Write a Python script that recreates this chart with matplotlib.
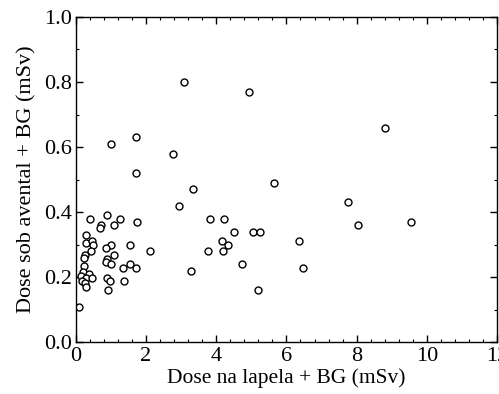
import matplotlib.pyplot as plt
from matplotlib.ticker import MultipleLocator

# Dose on lapel (x) vs dose under apron (y), both + BG, in mSv
dose_lapela = [0.09, 0.40, 0.90, 1.27, 1.09, 0.73, 0.70, 1.73, 0.30, 0.29,
               0.47, 0.49, 1.00, 1.53, 0.87, 0.42, 2.10, 1.09, 0.26, 0.24,
               0.90, 0.86, 0.99, 0.22, 1.55, 1.35, 1.71, 0.21, 0.37, 0.15,
               0.30, 0.45, 0.17, 0.26, 0.30, 0.88, 0.97, 0.93, 1.36, 0.99,
               1.70, 1.72,
               3.07, 4.92, 2.78, 3.35, 2.95, 5.66, 7.75, 3.83, 4.23, 4.50,
               5.05, 5.26, 4.16, 4.33, 6.36, 3.77, 4.18, 3.29, 4.74, 6.46,
               5.19, 8.80, 8.04, 9.54]
dose_avental = [0.11, 0.38, 0.39, 0.38, 0.36, 0.36, 0.35, 0.37, 0.33, 0.305,
                0.31, 0.30, 0.30, 0.30, 0.29, 0.28, 0.28, 0.27, 0.27, 0.26,
                0.256, 0.248, 0.24, 0.235, 0.24, 0.23, 0.23, 0.217, 0.21, 0.204,
                0.198, 0.198, 0.19, 0.183, 0.17, 0.198, 0.19, 0.16, 0.19, 0.61,
                0.63, 0.52,
                0.80, 0.77, 0.58, 0.47, 0.42, 0.49, 0.43, 0.38, 0.38, 0.34,
                0.34, 0.34, 0.31, 0.30, 0.31, 0.28, 0.28, 0.22, 0.24, 0.23,
                0.16, 0.66, 0.36, 0.37]

plt.rcParams['font.family'] = 'Liberation Serif'

fig = plt.figure(figsize=(4.99, 3.94), dpi=100)
ax = fig.add_axes([0.152, 0.131, 0.844, 0.826])

ax.plot(dose_lapela, dose_avental, linestyle='none', marker='o', markersize=5,
        markerfacecolor='white', markeredgecolor='black', markeredgewidth=1.0)

ax.set_xlim(0, 12)
ax.set_ylim(0, 1.0)
ax.xaxis.set_major_locator(MultipleLocator(2))
ax.xaxis.set_minor_locator(MultipleLocator(0.4))
ax.yaxis.set_major_locator(MultipleLocator(0.2))
ax.yaxis.set_minor_locator(MultipleLocator(0.1))
ax.yaxis.set_major_formatter(plt.FormatStrFormatter('%.1f'))

ax.tick_params(which='both', direction='in', top=True, right=True, labelsize=16, pad=3)
ax.tick_params(which='major', length=5, width=1)
ax.tick_params(which='minor', length=2.5, width=0.8)
for s in ax.spines.values():
    s.set_linewidth(1.0)

ax.set_xlabel('Dose na lapela + BG (mSv)', fontsize=15.5, labelpad=2)
ax.set_ylabel('Dose sob avental + BG (mSv)', fontsize=16, labelpad=5)

fig.savefig('out.png', dpi=100)
